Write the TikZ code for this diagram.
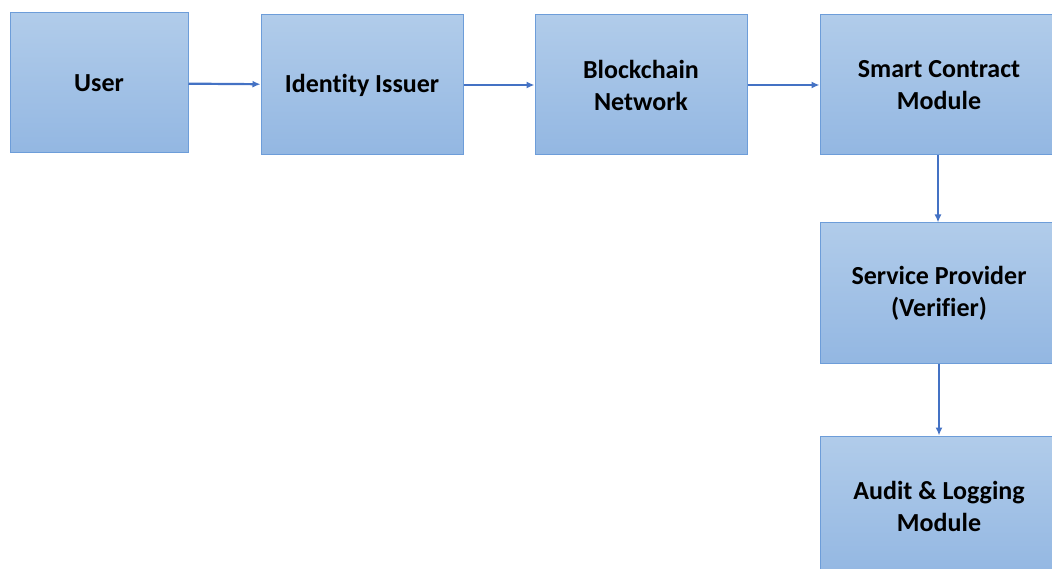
\documentclass[tikz,border=0pt]{standalone}
\usepackage{fontspec}
\setmainfont{Carlito}[Ligatures=NoCommon]
\usetikzlibrary{positioning,arrows.meta}
\definecolor{boxtop}{HTML}{B1CCEA}
\definecolor{boxbot}{HTML}{93B7E2}
\definecolor{boxline}{HTML}{6D9DD9}
\definecolor{flow}{HTML}{4472C4}

\begin{document}
\begin{tikzpicture}
  [
      x=1pt, y=-1pt,
      block/.style={rectangle, draw=boxline, line width=1pt, top color=boxtop, bottom color=boxbot,
        minimum height=140pt, minimum width=#1, inner sep=0pt, align=center,
        font=\fontsize{26}{32}\selectfont\bfseries},
      link/.style={-{Latex[length=8pt,width=7pt]}, draw=flow, line width=2.2pt}
    ]
    \useasboundingbox (0,0) rectangle (1052,569);
    \node (user) [block=178pt] at (99,83) {User};
    \node (issuer) [block=202pt, right=72pt of user, yshift=-2pt] {Identity Issuer};
    \node (chain) [block=212pt, right=71pt of issuer] {Blockchain\\Network};
    \node (contract) [block=238pt, right=72pt of chain] {Smart Contract\\Module};
    \node (verifier) [block=238pt, below=67pt of contract] {Service Provider\\(Verifier)};
    \node (audit) [block=238pt, below=72pt of verifier] {Audit \& Logging\\Module};
    \foreach \i/\j in {user/issuer,issuer/chain,chain/contract}
      \draw [link] (\i) -- (\j);
    \draw [link] (contract.south) ++(-1pt,0) coordinate (c1) (c1) -- (verifier.north -| c1);
    \draw [link] (verifier) -- (audit);
  \end{tikzpicture}
\end{document}
